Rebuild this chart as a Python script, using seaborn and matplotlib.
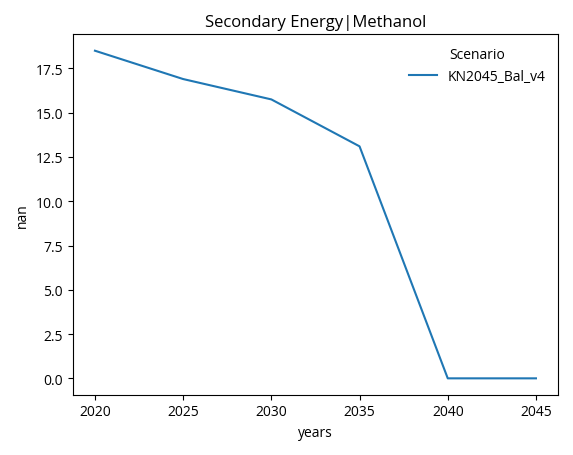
import pandas as pd
import matplotlib
matplotlib.use("Agg")
import matplotlib.pyplot as plt
import seaborn as sns

# ── Data ──────────────────────────────────────────────────────────────────────
years = [2020, 2025, 2030, 2035, 2040, 2045]
values = [18.5, 16.9, 15.75, 13.1, 0.0, 0.0]
scenario = "KN2045_Bal_v4"

df = pd.DataFrame({"years": years, "nan": values, "Scenario": [scenario] * len(years)})

plt.rcParams["font.family"] = ["Open Sans", "DejaVu Sans"]

# ── Plot ──────────────────────────────────────────────────────────────────────
fig, ax = plt.subplots(figsize=(5.73, 4.56), dpi=100)
sns.lineplot(data=df, x="years", y="nan", hue="Scenario", ax=ax)
ax.set_title("Secondary Energy|Methanol")
ax.legend(title="Scenario", frameon=False)
plt.tight_layout()
plt.savefig("out.png", dpi=100)
plt.close()
